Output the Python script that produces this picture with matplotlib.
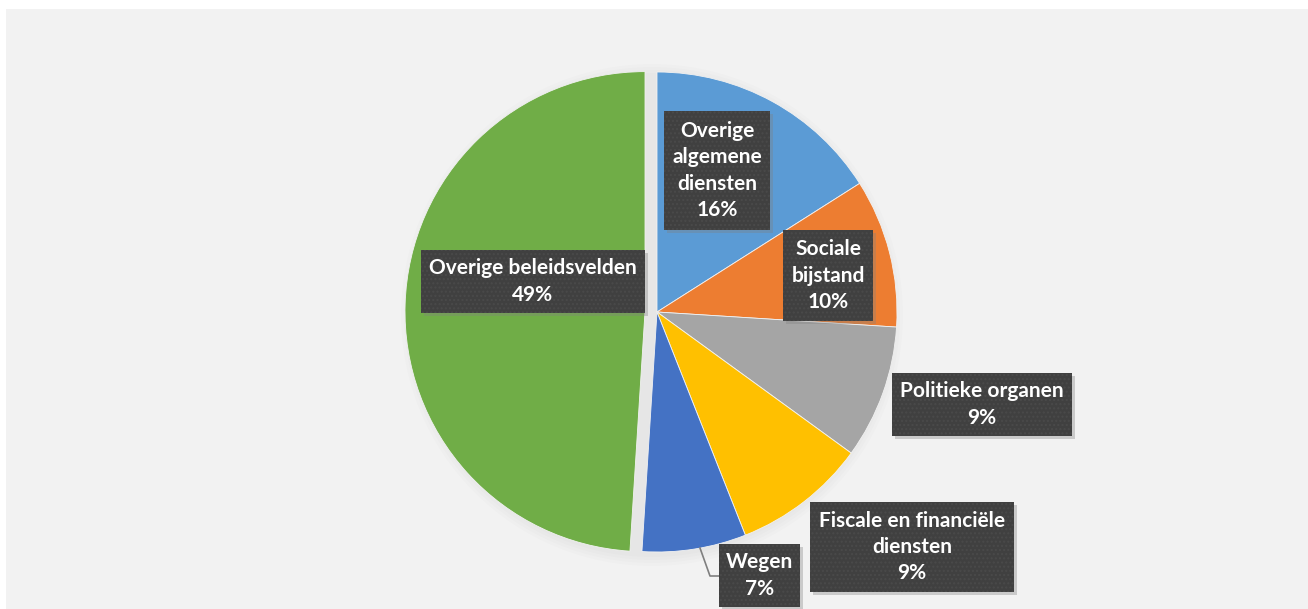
import matplotlib.pyplot as plt
from matplotlib.patches import Rectangle

# data
labels = ["Overige algemene diensten", "Sociale bijstand", "Politieke organen",
          "Fiscale en financiële diensten", "Wegen", "Overige beleidsvelden"]
values = [16, 10, 9, 9, 7, 49]
box_text = ["Overige\nalgemene\ndiensten", "Sociale\nbijstand", "Politieke organen",
            "Fiscale en financiële\ndiensten", "Wegen", "Overige beleidsvelden"]
colors = ["#5B9BD5", "#ED7D31", "#A5A5A5", "#FFC000", "#4472C4", "#70AD47"]

W, H = 1308, 609
R = 240
explode = [0, 0, 0, 0, 0, 12]   # in pixels (pie uses data units)

fig = plt.figure(figsize=(W / 100, H / 100), dpi=100)
fig.patch.set_facecolor("white")
ax = fig.add_axes([0, 0, 1, 1])
ax.axis("off")

def py(y):
    # pixel row -> data y
    return H - y

ax.add_patch(Rectangle((6, 0), W - 6, H - 9, facecolor="#F2F2F2", edgecolor="none", zorder=0))

# soft shadow behind pie
for k in range(4):
    ax.add_patch(plt.Circle((652, py(312) - 3), R + 2 + 3 * k, color="black",
                            alpha=0.012, lw=0, zorder=1))

wedges, _ = ax.pie(values, colors=colors, startangle=90, counterclock=False,
                   explode=explode, center=(657, py(312)), radius=R,
                   wedgeprops=dict(linewidth=0.6, edgecolor="#F2F2F2"))
for w in wedges:
    w.set_zorder(2)
ax.set_xlim(0, W)
ax.set_ylim(0, H)
ax.set_aspect("equal")

# label boxes: left, top, right, bottom in pixels
boxes = [(664, 111, 770, 230), (783, 230, 873, 321), (892, 373, 1072, 436),
         (810, 502, 1014, 592), (719, 544, 800, 607), (421, 250, 645, 313)]

for (l, t, r, b), txt, v in zip(boxes, box_text, values):
    ax.add_patch(Rectangle((l + 3, py(b) - 3), r - l, b - t, facecolor="#808080",
                           alpha=0.35, edgecolor="none", zorder=3))
    ax.add_patch(Rectangle((l, py(b)), r - l, b - t, facecolor="#404040",
                           edgecolor="none", zorder=4))
    ax.add_patch(Rectangle((l, py(b)), r - l, b - t, facecolor="none", hatch="....",
                           edgecolor="#4a4a4a", linewidth=0, zorder=4))
    ax.text((l + r) / 2, py((t + b) / 2), f"{txt}\n{v}%",
            ha="center", va="center", color="white", fontsize=15,
            fontweight="bold", family="Lato", linespacing=1.4, zorder=5)

# leader line for Wegen
ax.plot([700, 710, 719], [py(548), py(576), py(576)], color="#7f7f7f", lw=1.2, zorder=3)

fig.savefig("out.png", dpi=100, facecolor=fig.get_facecolor())
